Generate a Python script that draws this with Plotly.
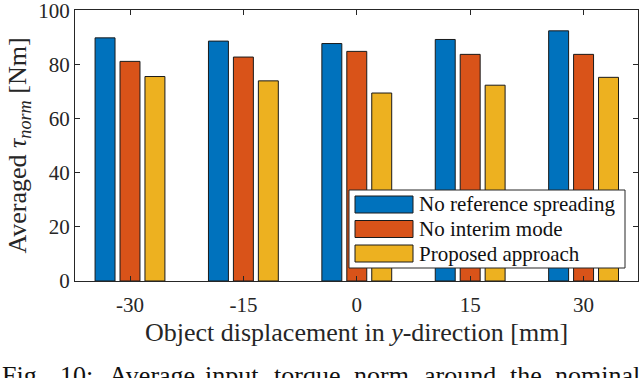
import plotly.graph_objects as go

# object displacement in y-direction [mm]
displacements = ['-30', '-15', '0', '15', '30']
series_names = ['No reference spreading', 'No interim mode', 'Proposed approach']
no_spreading = [89.9, 88.7, 87.8, 89.3, 92.5]
no_interim = [81.2, 82.8, 84.9, 83.8, 83.8]
proposed = [75.6, 74.0, 69.5, 72.4, 75.3]
colors = ['#0072BD', '#D95319', '#EDB120']
y_ticks = [0, 20, 40, 60, 80, 100]

caption_words = ['Fig.', '10:', 'Average', 'input', 'torque', 'norm', 'around', 'the', 'nominal']
caption_x = [0, 58, 107, 203, 272, 352, 422, 508, 553]

W, H = 640, 378
L, R, T, B = 75, 2, 10, 97
FONT = 'Liberation Serif, Times New Roman, serif'
INK = '#262626'


def px(x):
    return (x - L) / (W - L - R)


def py(y):
    return (H - B - y) / (H - T - B)


fig = go.Figure()
for name, values, color in zip(series_names, [no_spreading, no_interim, proposed], colors):
    fig.add_trace(go.Bar(x=displacements, y=values, name=name, marker_color=color,
                         marker_line=dict(color='#1a1a1a', width=1), showlegend=False))

# matlab-style legend: wide swatches in a boxed panel
shapes = [dict(type='rect', xref='paper', yref='paper', x0=px(349), x1=px(625), y0=py(190), y1=py(268),
               fillcolor='white', line=dict(color=INK, width=1), layer='above')]
annotations = []
for i, (name, color) in enumerate(zip(series_names, colors)):
    top = 196 + 24.5 * i
    shapes.append(dict(type='rect', xref='paper', yref='paper', x0=px(355), x1=px(413),
                       y0=py(top), y1=py(top + 17), fillcolor=color,
                       line=dict(color='#1a1a1a', width=1), layer='above'))
    annotations.append(dict(xref='paper', yref='paper', x=px(417), y=py(top + 8.5), text=name,
                            showarrow=False, xanchor='left', yanchor='middle',
                            font=dict(family=FONT, size=21, color='#111')))

# figure caption, cut off at the bottom of the crop
for word, x in zip(caption_words, caption_x):
    annotations.append(dict(xref='paper', yref='paper', x=px(x), y=py(359), text=word,
                            showarrow=False, xanchor='left', yanchor='top',
                            font=dict(family=FONT, size=26, color='#111')))

axis = dict(showline=True, linecolor=INK, linewidth=1, mirror='ticks', ticks='inside',
            ticklen=5, tickcolor=INK, showgrid=False, zeroline=False, automargin=False,
            ticklabeloverflow='allow', tickfont=dict(family=FONT, size=21, color=INK))
fig.update_layout(
    width=W, height=H, margin=dict(l=L, r=R, t=T, b=B),
    font=dict(family=FONT, color=INK),
    paper_bgcolor='white', plot_bgcolor='white',
    barmode='group', bargap=0.34, bargroupgap=0.2,
    xaxis=dict(axis, range=[-0.485, 4.48], ticklabelstandoff=5,
               title=dict(text='Object displacement in <i>y</i>-direction [mm]', standoff=6,
                          font=dict(family=FONT, size=26, color=INK))),
    yaxis=dict(axis, range=[0, 100.2], tickvals=y_ticks,
               title=dict(text='Averaged <i>τ</i><sub><i>norm</i></sub> [Nm]', standoff=4,
                          font=dict(family=FONT, size=26, color=INK))),
    shapes=shapes, annotations=annotations,
)
# drop the default 8px page margin so the figure sits at the window origin
fig.write_html('out.html', config={'displayModeBar': False},
               post_script="document.body.style.margin='0';")
